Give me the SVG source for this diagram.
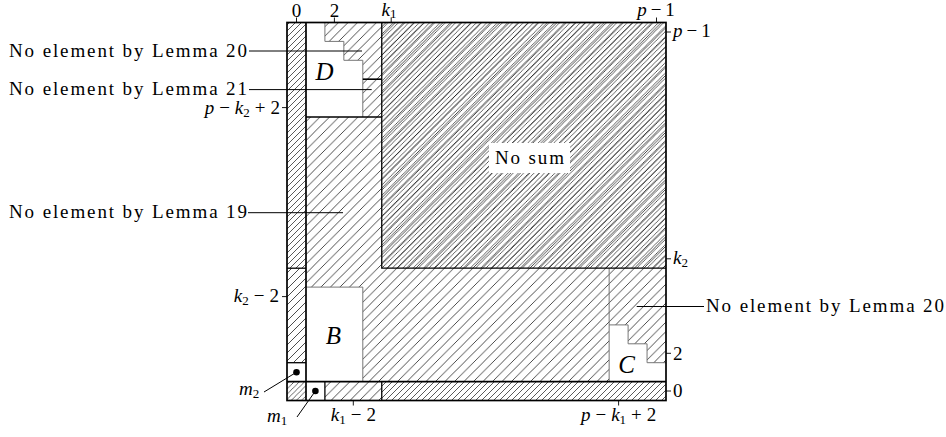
<svg xmlns="http://www.w3.org/2000/svg" width="946" height="437" viewBox="0 0 946 437">
<defs>
<pattern id="hc" patternUnits="userSpaceOnUse" width="9.5" height="9.5"><path d="M-1,1 l2,-2 M0,9.5 l9.5,-9.5 M8.5,10.5 l2,-2" stroke="#000" stroke-width="0.7"/></pattern>
<pattern id="hf" patternUnits="userSpaceOnUse" width="5.2" height="5.2"><path d="M-1,1 l2,-2 M0,5.2 l5.2,-5.2 M4.2,6.2 l2,-2" stroke="#000" stroke-width="0.6"/></pattern>
<pattern id="hm" patternUnits="userSpaceOnUse" width="6" height="6"><path d="M-1,1 l2,-2 M0,6 l6,-6 M5,7 l2,-2" stroke="#000" stroke-width="0.65"/></pattern>
<pattern id="hl" patternUnits="userSpaceOnUse" width="8" height="8"><path d="M-1,1 l2,-2 M0,8 l8,-8 M7,9 l2,-2" stroke="#000" stroke-width="0.7"/></pattern>
</defs>
<style>
.t{font-family:"Liberation Serif","Times New Roman",serif;font-size:19px;fill:#000}
.m{font-family:"Liberation Serif","Times New Roman",serif;font-size:19px;font-style:italic;fill:#000}
.big{font-family:"Liberation Serif","Times New Roman",serif;font-size:25px;font-style:italic;fill:#000}
.s{font-size:13px;font-style:normal}
.r{font-style:normal}
.thin{stroke:#777;stroke-width:1;fill:none}
.blk{stroke:#000;stroke-width:1.3;fill:none}
.thk{stroke:#000;stroke-width:1.7;fill:none}
.lead{stroke:#000;stroke-width:1;fill:none}
.tick{stroke:#000;stroke-width:0.9;fill:none}
</style>
<rect width="946" height="437" fill="#fff"/>

<g id="regions">
<rect x="306" y="22.5" width="360" height="359.1" fill="url(#hc)"/>
<rect id="nosum-area" x="381.75" y="22.5" width="284.25" height="245.7" fill="url(#hf)"/>
<rect x="287" y="22.5" width="19" height="245.7" fill="url(#hm)"/>
<rect x="287" y="268.2" width="19" height="94.5" fill="url(#hl)"/>
<rect x="287" y="362.7" width="19" height="18.9" fill="#fff"/>
<rect x="287" y="381.6" width="19" height="18.9" fill="url(#hf)"/>
<rect x="306" y="381.6" width="18.9" height="18.9" fill="#fff"/>
<rect x="324.9" y="381.6" width="56.85" height="18.9" fill="url(#hc)"/>
<rect x="381.75" y="381.6" width="284.25" height="18.9" fill="url(#hm)"/>
</g>

<g id="D">
<path d="M306,22.5 H324.9 V41.4 H343.85 V60.3 H362.8 V117 H306 Z" fill="#fff"/>
<path class="thin" d="M324.9,22.5 V41.4 H343.85 V60.3 H362.8 V117"/>
<line class="blk" x1="306" y1="117" x2="381.75" y2="117"/>
<line class="blk" x1="362.8" y1="79.2" x2="381.75" y2="79.2" style="stroke-width:1.6"/>
<text class="big" x="324.5" y="80" text-anchor="middle">D</text>
</g>

<g id="B">
<rect x="306" y="287.1" width="56.8" height="94.5" fill="#fff"/>
<path class="thin" d="M306,287.1 H362.8 V381.6"/>
<text class="big" x="333.5" y="344" text-anchor="middle">B</text>
</g>

<g id="C">
<path d="M609.15,381.6 V324.9 H628.1 V343.8 H647.05 V362.7 H666 V381.6 Z" fill="#fff"/>
<path class="thin" d="M609.15,268.2 V381.6 M609.15,324.9 H628.1 V343.8 H647.05 V362.7 H666"/>
<text class="big" x="626.5" y="373" text-anchor="middle">C</text>
</g>

<g id="nosum">
<rect x="489" y="143" width="81" height="30" fill="#fff"/>
<text class="t" x="529.5" y="164" text-anchor="middle" textLength="69" lengthAdjust="spacing">No sum</text>
<path class="blk" d="M381.75,22.5 V268.2 H666"/>
</g>

<g id="grid">
<line class="thk" x1="306" y1="22.5" x2="306" y2="400.5"/>
<line class="thk" x1="287" y1="381.6" x2="666" y2="381.6"/>
<line class="blk" x1="287" y1="268.2" x2="306" y2="268.2"/>
<line class="blk" x1="287" y1="362.7" x2="306" y2="362.7"/>
<line class="blk" x1="324.9" y1="381.6" x2="324.9" y2="400.5"/>
<line class="blk" x1="381.75" y1="381.6" x2="381.75" y2="400.5"/>
<rect class="thk" x="287" y="22.5" width="379" height="378"/>
<circle id="m2dot" cx="296.5" cy="372.2" r="3.3" fill="#000"/>
<circle id="m1dot" cx="315.4" cy="391" r="3.3" fill="#000"/>
</g>

<g id="ticks">
<path class="tick" d="M296.5,17.5 V22.5 M334.4,17.5 V22.5 M391.2,17.5 V22.5 M656.5,17.5 V22.5"/>
<path class="tick" d="M666,32 H671 M666,258.8 H671 M666,353.3 H671 M666,391 H671"/>
<path class="tick" d="M282,107.6 H287 M282,296.6 H287"/>
<path class="tick" d="M353.3,400.5 V405.5 M618.6,400.5 V405.5"/>
</g>

<g id="labels">
<text class="t" x="296.5" y="16.5" text-anchor="middle">0</text>
<text class="t" x="334.4" y="16.5" text-anchor="middle">2</text>
<text class="m" x="389" y="15.5" text-anchor="middle">k<tspan class="s" dy="2.5">1</tspan></text>
<text class="m" x="656" y="15.5" text-anchor="middle">p<tspan class="r" dx="4">−</tspan><tspan class="r" dx="4">1</tspan></text>
<text class="m" x="673" y="37">p<tspan class="r" dx="4">−</tspan><tspan class="r" dx="4">1</tspan></text>
<text class="m" x="673" y="264">k<tspan class="s" dy="3">2</tspan></text>
<text class="t" x="673" y="360">2</text>
<text class="t" x="673" y="397">0</text>
<text class="m" x="280" y="114" text-anchor="end">p<tspan class="r" dx="5">−</tspan><tspan dx="5">k</tspan><tspan class="s" dy="3">2</tspan><tspan class="r" dy="-3" dx="5">+</tspan><tspan class="r" dx="5">2</tspan></text>
<text class="m" x="279" y="302" text-anchor="end">k<tspan class="s" dy="3">2</tspan><tspan class="r" dy="-3" dx="5">−</tspan><tspan class="r" dx="5">2</tspan></text>
<text class="m" x="353.3" y="421" text-anchor="middle">k<tspan class="s" dy="3">1</tspan><tspan class="r" dy="-3" dx="5">−</tspan><tspan class="r" dx="5">2</tspan></text>
<text class="m" x="618.6" y="421" text-anchor="middle">p<tspan class="r" dx="5">−</tspan><tspan dx="5">k</tspan><tspan class="s" dy="3">1</tspan><tspan class="r" dy="-3" dx="5">+</tspan><tspan class="r" dx="5">2</tspan></text>
<text class="m" x="239" y="395">m<tspan class="s" dy="3">2</tspan></text>
<text class="m" x="267" y="422">m<tspan class="s" dy="3">1</tspan></text>
<text class="t" x="9" y="57" textLength="238" lengthAdjust="spacing">No element by Lemma 20</text>
<text class="t" x="9" y="94.5" textLength="238" lengthAdjust="spacing">No element by Lemma 21</text>
<text class="t" x="9" y="218" textLength="238" lengthAdjust="spacing">No element by Lemma 19</text>
<text class="t" x="706" y="312" textLength="238" lengthAdjust="spacing">No element by Lemma 20</text>
</g>

<g id="connectors">
<line class="lead" x1="249" y1="51" x2="362" y2="51"/>
<line class="lead" x1="249" y1="89.6" x2="371.7" y2="89.6"/>
<line class="lead" x1="248" y1="212.7" x2="343" y2="212.7"/>
<line class="lead" x1="636.7" y1="306.5" x2="704" y2="306.5"/>
<line class="lead" x1="264" y1="392" x2="296.5" y2="372.2"/>
<line class="lead" x1="297" y1="417" x2="315.4" y2="391"/>
</g>
</svg>
